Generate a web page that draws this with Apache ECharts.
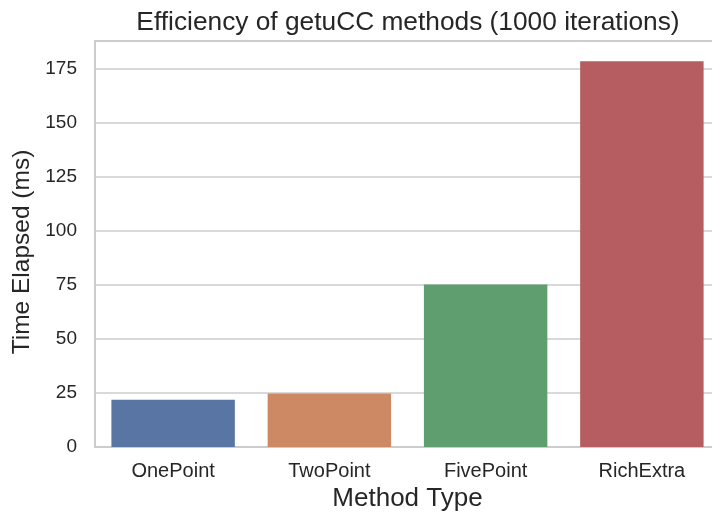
<!DOCTYPE html>
<html>
<head>
<meta charset="utf-8">
<script src="https://cdn.jsdelivr.net/npm/echarts@6/dist/echarts.min.js"></script>
<style>
  html, body { margin: 0; padding: 0; background: #fff; }
  #chart { width: 712px; height: 513px; }
</style>
</head>
<body>
<div id="chart"></div>
<script>
// data
const methods = ["OnePoint", "TwoPoint", "FivePoint", "RichExtra"];
const elapsed = [21.9, 24.8, 75.3, 178.6];
const barColors = ["#5975a4", "#cc8963", "#5f9e6e", "#b55d60"];
const yTicks = [0, 25, 50, 75, 100, 125, 150, 175];

const font = "'Liberation Sans', Arial, sans-serif";
const textColor = "#262626";

let myChart = echarts.init(document.getElementById("chart"));

let option = {
  backgroundColor: "#fff",
  animation: false,
  title: {
    text: "Efficiency of getuCC methods (1000 iterations)",
    left: 403,
    top: 5,
    textAlign: "center",
    textStyle: {
      color: textColor,
      fontFamily: font,
      fontSize: 26.3,
      fontWeight: "normal"
    }
  },
  grid: {
    left: 95,
    top: 41,
    right: -8,
    bottom: 66,
    outerBoundsMode: "none",
    containLabel: false,
    show: true,
    borderColor: "#cccccc",
    borderWidth: 2,
    backgroundColor: "transparent"
  },
  xAxis: {
    type: "category",
    data: methods,
    name: "Method Type",
    nameLocation: "middle",
    nameGap: 38,
    nameTextStyle: { color: textColor, fontFamily: font, fontSize: 26 },
    axisTick: { show: false },
    axisLine: { show: true, lineStyle: { color: "#cccccc", width: 2 } },
    axisLabel: { color: textColor, fontFamily: font, fontSize: 20, margin: 14 },
    splitLine: { show: false }
  },
  yAxis: {
    type: "value",
    min: 0,
    max: 188,
    interval: 25,
    name: "Time Elapsed (ms)",
    nameLocation: "middle",
    nameGap: 54,
    nameTextStyle: { color: textColor, fontFamily: font, fontSize: 24.5, padding: [0, 16, 0, 0] },
    axisTick: { show: false },
    axisLine: { show: true, lineStyle: { color: "#cccccc", width: 2 } },
    axisLabel: {
      color: textColor,
      fontFamily: font,
      fontSize: 19,
      margin: 18,
      formatter: function (v) {
        return yTicks.indexOf(v) >= 0 ? String(v) : "";
      }
    },
    splitLine: { show: true, lineStyle: { color: "#cccccc", width: 1.5 } }
  },
  series: [{
    type: "bar",
    barWidth: "79%",
    data: elapsed.map(function (v, i) {
      return { value: v, itemStyle: { color: barColors[i] } };
    })
  }]
};

myChart.setOption(option);
</script>
</body>
</html>
